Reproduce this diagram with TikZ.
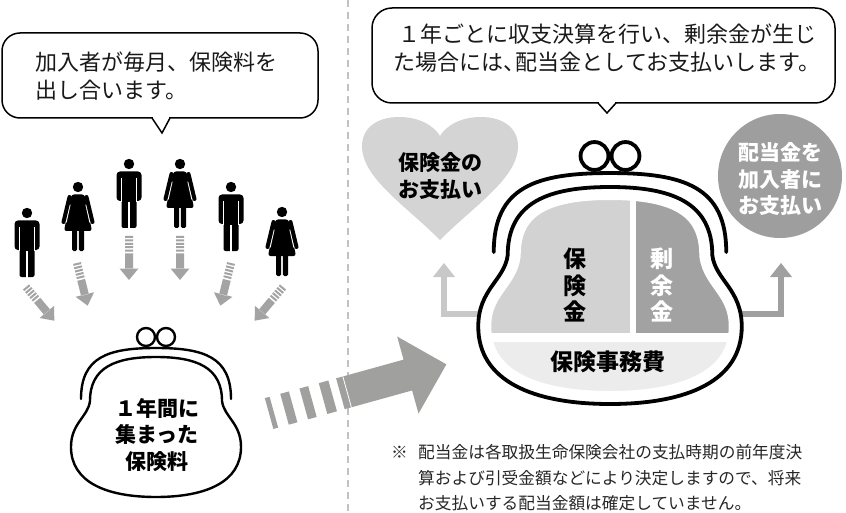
\documentclass[tikz,border=0pt]{standalone}
\usepackage{fontspec}
\newfontfamily\jp{Noto Sans CJK JP}
\definecolor{dividergray}{HTML}{C2C2C2}
\definecolor{dropgray}{HTML}{A3A3A3}
\definecolor{biggray}{HTML}{A0A19F}
\definecolor{heartgray}{HTML}{D4D4D4}
\definecolor{roundgray}{HTML}{9E9E9E}
\definecolor{fundgray}{HTML}{D2D2D2}
\definecolor{surplusgray}{HTML}{A2A2A2}
\definecolor{costgray}{HTML}{ECECEC}
\definecolor{fundline}{HTML}{C8C8C8}
\definecolor{surplusline}{HTML}{A0A0A0}

% inner outline of the coin purse (frame dome, neck, bulging pouch)
\newcommand\pouchpath{(-66,44) .. controls (-66,10) and (-40,0) .. (0,0)
  .. controls (40,0) and (66,10) .. (66,44)
  .. controls (68,60) and (85,66) .. (85,90)
  .. controls (85,125) and (50,140) .. (0,140)
  .. controls (-50,140) and (-85,125) .. (-85,90)
  .. controls (-85,66) and (-68,60) .. (-66,44) -- cycle}
% outer metal frame of the purse
\newcommand\framearc{(-75,42) .. controls (-75,0) and (-48,-9) .. (0,-9)
  .. controls (48,-9) and (75,0) .. (75,42)}

\tikzset{
  bubble/.style={draw=black, line width=1.5, fill=white, rounded corners=18},
  bubbletext/.style={font=\jp\fontsize{22}{28}\selectfont, inner sep=0, text=black!90},
  boldlabel/.style={font=\jp\bfseries\fontsize{21}{26.5}\selectfont, inner sep=0, align=center},
  purselabel/.style={font=\jp\bfseries\fontsize{23}{26.5}\selectfont, inner sep=0, align=center},
  notetext/.style={font=\jp\fontsize{16.7}{25.5}\selectfont, inner sep=0, text=black!85, anchor=west},
  man/.pic={
    \fill (0,0) circle (5.2);
    \fill[rounded corners=3.5] (-12.5,7.5) rectangle (12.5,37);
    \fill[rounded corners=2] (-7.5,30) rectangle (7.5,64);
    \draw[white, line width=1.3] (-7.8,14) -- (-7.8,38) (7.8,14) -- (7.8,38) (0,38) -- (0,65);
  },
  woman/.pic={
    \fill (0,0) circle (5.2);
    \fill[rounded corners=2.5] (-6.5,7.5) -- (6.5,7.5) -- (14,44) -- (-14,44) -- cycle;
    \draw[white, line width=6.5] (-10.6,17) -- (-14.6,35) (10.6,17) -- (14.6,35);
    \draw[line width=4, line cap=round] (-8.5,10) -- (-14.5,35) (8.5,10) -- (14.5,35);
    \fill[rounded corners=1.5] (-6,42) rectangle (-0.8,64) (0.8,42) rectangle (6,64);
  },
  droparrow/.pic={
    \fill[dropgray] (-4,0) rectangle (4,2) (-4,3.4) rectangle (4,5.4)
      (-4,6.8) rectangle (4,8.8) (-4,10.2) rectangle (4,12.2) (-4,13.6) rectangle (4,15.6);
    \fill[dropgray] (-4,17.4) rectangle (4,33) (-9.5,32.5) -- (9.5,32.5) -- (0,44) -- cycle;
  },
  bigarrow/.pic={
    \fill[biggray] (-2,-16) rectangle (3,16) (14,-16) rectangle (23,16)
      (34,-16) rectangle (43,16) (54,-16) rectangle (64,16);
    \fill[biggray] (72,-16) -- (142,-16) -- (142,-40) -- (182,0) -- (142,40) -- (142,16) -- (72,16) -- cycle;
    \draw[white, line width=0.8] (79,-16) -- (79,16);
  },
  pouch/.pic={
    \draw[line width=#1, fill=white] \pouchpath;
    \draw[line width=#1, line cap=round] \framearc;
    \draw[line width=#1, fill=white] (-10,-20) circle (9) (10,-20) circle (9);
  },
}

\begin{document}
\begin{tikzpicture}[x=1pt, y=-1pt]
\path[use as bounding box] (0,0) rectangle (846,513);

% dashed divider between the two halves
\draw[dividergray, line width=2.4, dash pattern=on 7 off 5] (348,0) -- (348,513);

% ---------- left half: monthly premiums ----------
\draw[bubble] (2,33) rectangle (318,118);
\fill[white] (152.9,116) rectangle (169.1,119.5);
\draw[line width=1.5, line join=miter] (152,118) -- (162,133) -- (170,118);
\node[bubbletext, anchor=west] (payA) at (35,62) {加入者が毎月、保険料を};
\node[bubbletext, anchor=west] (payB) at (35,90) {出し合います。};

\pic at (27,213) {man};
\pic at (78,187) {woman};
\pic at (129,164) {man};
\pic at (180,164) {woman};
\pic at (231,187) {man};
\pic at (282,212) {woman};

\pic[rotate=40] at (26,287) {droparrow};
\pic[rotate=14] at (77,263) {droparrow};
\pic at (129,236) {droparrow};
\pic at (180,236) {droparrow};
\pic[rotate=-14] at (231,263) {droparrow};
\pic[rotate=-40] at (283,287) {droparrow};

\pic at (156,357) {pouch=2.4};
\node[boldlabel] (pooled) at (157,435) {１年間に\\集まった\\保険料};

\pic[rotate=15.5] at (271,413) {bigarrow};

% ---------- right half: annual settlement ----------
\draw[bubble, rounded corners=20] (372,8) rectangle (835,103);
\fill[white] (598.9,101) rectangle (615.1,104.5);
\draw[line width=1.5, line join=miter] (598,103) -- (607,113) -- (616,103);
\node[bubbletext, align=center] (settle) at (607,48)
  {１年ごとに収支決算を行い、剰余金が生じ\\た場合には、\kern-.45em配当金としてお支払いします。};

\path[fill=heartgray] (440,240) .. controls (405,205) and (362,178) .. (362,146)
  .. controls (362,128) and (377,117) .. (399,117)
  .. controls (420,117) and (434,126) .. (440,136)
  .. controls (446,126) and (460,117) .. (481,117)
  .. controls (503,117) and (518,128) .. (518,146)
  .. controls (518,178) and (475,205) .. (440,240) -- cycle;
\node[boldlabel] (claims) at (440,176) {保険金の\\お支払い};

\fill[roundgray] (780,176) circle (62);
\node[boldlabel, text=white] (dividend) at (780,179) {配当金を\\加入者に\\お支払い};

% flows out of the purse
\coordinate (fundout) at (488,314);
\coordinate (fundup) at (444,314);
\coordinate (fundtip) at (444,263);
\draw[fundline, line width=6] (fundout) -- (fundup) -- (444,275);
\fill[fundline] (433,277) -- (455,277) -- (fundtip) -- cycle;
\coordinate (surpout) at (732,314);
\coordinate (surpup) at (781,314);
\coordinate (surptip) at (781,263);
\draw[surplusline, line width=6] (surpout) -- (surpup) -- (781,275);
\fill[surplusline] (770,277) -- (792,277) -- (surptip) -- cycle;

\begin{scope}[shift={(610,187)}, scale=1.55]
  \fill[white] \pouchpath;
  \begin{scope}
    \clip \pouchpath;
    \fill[fundgray] (-100,-10) rectangle (13,94.2);
    \fill[surplusgray] (17,-10) rectangle (100,94.2);
    \fill[costgray] (-100,100) rectangle (100,150);
    \draw[white, line width=26] \pouchpath;
  \end{scope}
  \draw[line width=3.8] \pouchpath;
  \draw[line width=3.8, line cap=round] \framearc;
  \draw[line width=3.8, fill=white] (-10,-20) circle (9) (10,-20) circle (9);
\end{scope}

\node[purselabel] (fund) at (575,285) {保\\険\\金};
\node[purselabel, text=white] (surplus) at (662,285) {剰\\余\\金};
\node[purselabel] (costs) at (608,362) {保険事務費};

% footnote
\node[notetext] (mark) at (391,452) {※};
\node[notetext] (noteA) at (418,452) {配当金は各取扱生命保険会社の支払時期の前年度決};
\node[notetext] (noteB) at (418,478) {算および引受金額などにより決定しますので、将来};
\node[notetext] (noteC) at (418,503) {お支払いする配当金額は確定していません。};
\end{tikzpicture}
\end{document}
